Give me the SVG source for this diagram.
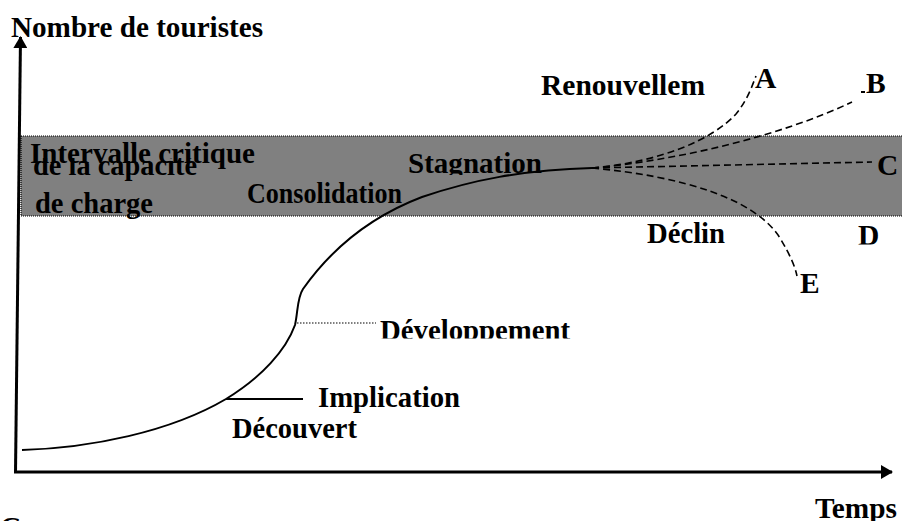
<svg xmlns="http://www.w3.org/2000/svg" width="902" height="521" viewBox="0 0 902 521">
  <style>
    .lbl { font-family: "Liberation Serif", "Times New Roman", serif; font-weight: bold; font-size: 29.5px; fill: #000; }
    .curve { fill: none; stroke: #000; stroke-width: 2; }
    .dash { fill: none; stroke: #000; stroke-width: 1.6; stroke-dasharray: 7 4; }
    .axis { fill: none; stroke: #000; stroke-width: 3; }
    .dots { fill: none; stroke: #000; stroke-width: 1.2; stroke-dasharray: 1 1; }
  </style>
  <defs>
    <marker id="arrow" viewBox="0 0 12 14" refX="11" refY="7" markerWidth="12" markerHeight="14" markerUnits="userSpaceOnUse" orient="auto">
      <path d="M0 0 L12 7 L0 14 Z" fill="#000"/>
    </marker>
    <clipPath id="clipStag"><rect x="400" y="140" width="160" height="35"/></clipPath>
    <clipPath id="clipDev"><rect x="370" y="300" width="220" height="38.5"/></clipPath>
    <clipPath id="clipD"><rect x="850" y="220" width="40" height="24.5"/></clipPath>
    <clipPath id="clipCap"><rect x="20" y="158" width="200" height="30"/></clipPath>
  </defs>

  <!-- critical capacity band -->
  <g id="band">
    <rect x="21" y="136" width="881" height="80" fill="#808080"/>
    <path class="dots" d="M21 136 H902 M21 216 H902 M21 136 V216"/>
  </g>

  <!-- axes and life-cycle curve -->
  <g id="connectors">
    <path class="axis" d="M15.5 473 L20.5 37" marker-end="url(#arrow)"/>
    <path class="axis" d="M14 472 L892 472" marker-end="url(#arrow)"/>
    <path class="curve" d="M22 450 C90 448 170 432 226 399 C262 377 286 350 295 325 C298 312 297 298 303 289 C332 248 372 216 422 197 C472 180 522 170 592 168"/>
    <path class="dash" d="M592 168 C660 162 712 140 736 114 C748 99 752 86 756 76"/>
    <path class="dash" d="M592 168 C680 160 780 136 852 102"/>
    <path class="dash" d="M592 168 L872 162"/>
    <path class="dash" d="M592 168 C680 176 755 198 780 238 C790 255 795 266 797 276"/>
    <rect x="861" y="91" width="4" height="2" fill="#000"/>
    <path d="M297 323 H376" fill="none" stroke="#000" stroke-width="1.2" stroke-dasharray="1.5 1.5"/>
    <path d="M226 399 H303" fill="none" stroke="#000" stroke-width="2"/>
  </g>

  <!-- labels -->
  <g id="axis-y-label"><text class="lbl" x="11" y="37" textLength="252" lengthAdjust="spacingAndGlyphs">Nombre de touristes</text></g>
  <g id="axis-x-label"><text class="lbl" x="815" y="518" textLength="82" lengthAdjust="spacingAndGlyphs">Temps</text></g>
  <g id="band-label">
    <text class="lbl" x="30" y="163" textLength="225" lengthAdjust="spacingAndGlyphs">Intervalle critique</text>
    <g clip-path="url(#clipCap)"><text class="lbl" x="33" y="175" textLength="164" lengthAdjust="spacingAndGlyphs">de la capacité</text></g>
    <text class="lbl" x="35" y="213" textLength="118" lengthAdjust="spacingAndGlyphs">de charge</text>
  </g>
  <g id="stage-decouvert"><text class="lbl" x="232" y="438" textLength="125" lengthAdjust="spacingAndGlyphs">Découvert</text></g>
  <g id="stage-implication"><text class="lbl" x="318" y="407" textLength="142" lengthAdjust="spacingAndGlyphs">Implication</text></g>
  <g id="stage-developpement" clip-path="url(#clipDev)"><text class="lbl" x="380" y="340" textLength="190" lengthAdjust="spacingAndGlyphs">Développement</text></g>
  <g id="stage-consolidation"><text class="lbl" x="247" y="203" font-size="28" textLength="155" lengthAdjust="spacingAndGlyphs">Consolidation</text></g>
  <g id="stage-stagnation" clip-path="url(#clipStag)"><text class="lbl" x="408" y="173" textLength="134" lengthAdjust="spacingAndGlyphs">Stagnation</text></g>
  <g id="stage-renouvellement"><text class="lbl" x="541" y="95" textLength="164" lengthAdjust="spacingAndGlyphs">Renouvellem</text></g>
  <g id="stage-declin"><text class="lbl" x="647" y="243" textLength="78" lengthAdjust="spacingAndGlyphs">Déclin</text></g>
  <g id="branch-a"><text class="lbl" x="755" y="88">A</text></g>
  <g id="branch-b"><text class="lbl" x="866" y="93">B</text></g>
  <g id="branch-c"><text class="lbl" x="877" y="175">C</text></g>
  <g id="branch-d" clip-path="url(#clipD)"><text class="lbl" x="858" y="245">D</text></g>
  <g id="branch-e"><text class="lbl" x="800" y="293">E</text></g>
  <g id="caption"><text class="lbl" x="0" y="537">C</text></g>
</svg>
